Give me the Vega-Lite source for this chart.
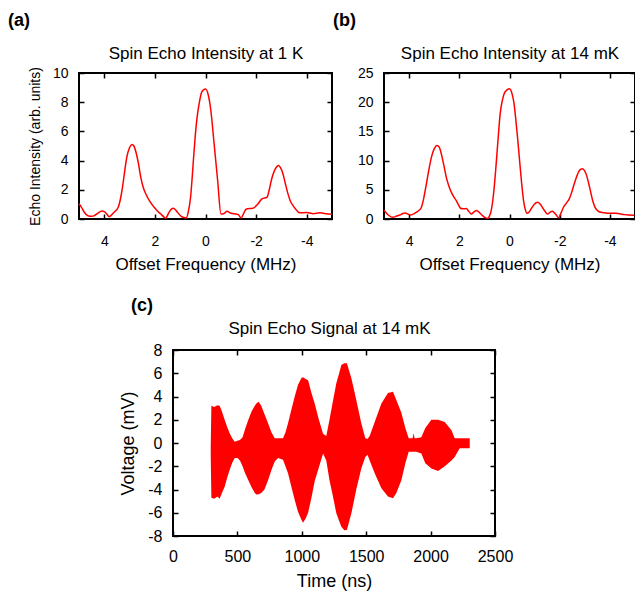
{
  "$schema": "https://vega.github.io/schema/vega-lite/v6.json",
  "padding": {"left": 7, "top": 11, "right": 0, "bottom": 0},
  "config": {
    "font": "Liberation Sans",
    "view": {"stroke": "black", "strokeWidth": 2},
    "axis": {"grid": false, "domain": false, "tickColor": "black", "tickWidth": 1.5, "tickSize": -5, "labelColor": "black", "titleColor": "black", "titleFontWeight": "normal", "labelFontSize": 14, "titleFontSize": 17, "labelFlush": false, "labelOverlap": false},
    "title": {"fontWeight": "bold", "fontSize": 18, "anchor": "start", "frame": "group", "color": "black"}
  },
  "datasets": {
    "a": [
      {"f":5.0,"v":1.05},{"f":4.9,"v":0.8},{"f":4.79,"v":0.46},{"f":4.65,"v":0.22},{"f":4.5,"v":0.18},{"f":4.39,"v":0.23},{"f":4.25,"v":0.4},{"f":4.1,"v":0.55},{"f":4.0,"v":0.5},{"f":3.93,"v":0.39},{"f":3.8,"v":0.16},{"f":3.7,"v":0.3},{"f":3.61,"v":0.46},{"f":3.45,"v":0.8},{"f":3.37,"v":1.3},{"f":3.28,"v":2.18},{"f":3.2,"v":3.2},{"f":3.11,"v":4.24},{"f":3.0,"v":4.9},{"f":2.91,"v":5.11},{"f":2.83,"v":5.0},{"f":2.75,"v":4.59},{"f":2.65,"v":3.8},{"f":2.56,"v":2.87},{"f":2.45,"v":2.1},{"f":2.33,"v":1.61},{"f":2.2,"v":1.2},{"f":2.03,"v":0.8},{"f":1.9,"v":0.55},{"f":1.77,"v":0.34},{"f":1.65,"v":0.15},{"f":1.57,"v":0.05},{"f":1.5,"v":0.25},{"f":1.44,"v":0.46},{"f":1.35,"v":0.68},{"f":1.27,"v":0.73},{"f":1.18,"v":0.62},{"f":1.11,"v":0.46},{"f":0.96,"v":0.18},{"f":0.85,"v":0.1},{"f":0.76,"v":0.07},{"f":0.68,"v":0.5},{"f":0.59,"v":1.49},{"f":0.52,"v":3.0},{"f":0.46,"v":4.47},{"f":0.4,"v":5.8},{"f":0.33,"v":7.0},{"f":0.25,"v":7.9},{"f":0.17,"v":8.6},{"f":0.08,"v":8.85},{"f":0.0,"v":8.9},
      {"f":-0.11,"v":8.49},{"f":-0.21,"v":7.45},{"f":-0.34,"v":5.16},{"f":-0.48,"v":2.64},{"f":-0.61,"v":0.34},{"f":-0.72,"v":0.36},{"f":-0.85,"v":0.53},{"f":-1.01,"v":0.39},{"f":-1.21,"v":0.34},{"f":-1.3,"v":0.3},{"f":-1.41,"v":0.07},{"f":-1.5,"v":0.35},{"f":-1.6,"v":0.67},{"f":-1.75,"v":0.72},{"f":-1.87,"v":0.73},{"f":-2.07,"v":1.03},{"f":-2.23,"v":1.38},{"f":-2.43,"v":1.49},{"f":-2.52,"v":2.0},{"f":-2.6,"v":2.64},{"f":-2.76,"v":3.44},{"f":-2.89,"v":3.67},{"f":-2.97,"v":3.5},{"f":-3.06,"v":3.1},{"f":-3.16,"v":2.4},{"f":-3.26,"v":1.72},{"f":-3.36,"v":1.2},{"f":-3.46,"v":0.92},{"f":-3.6,"v":0.6},{"f":-3.73,"v":0.42},{"f":-3.99,"v":0.45},{"f":-4.26,"v":0.36},{"f":-4.52,"v":0.42},{"f":-4.75,"v":0.36},{"f":-5.0,"v":0.33}
    ],
    "b": [
      {"f":5.0,"v":1.5},{"f":4.83,"v":0.69},{"f":4.64,"v":0.29},{"f":4.5,"v":0.5},{"f":4.37,"v":0.69},{"f":4.25,"v":0.95},{"f":4.15,"v":1.03},{"f":4.05,"v":0.85},{"f":3.93,"v":0.69},{"f":3.8,"v":0.9},{"f":3.71,"v":1.15},{"f":3.6,"v":1.5},{"f":3.51,"v":2.01},{"f":3.42,"v":3.5},{"f":3.31,"v":6.03},{"f":3.21,"v":8.5},{"f":3.11,"v":10.6},{"f":3.0,"v":12.0},{"f":2.89,"v":12.6},{"f":2.8,"v":12.3},{"f":2.72,"v":11.2},{"f":2.62,"v":9.3},{"f":2.52,"v":7.18},{"f":2.42,"v":5.7},{"f":2.32,"v":4.6},{"f":2.22,"v":3.8},{"f":2.12,"v":3.16},{"f":2.03,"v":2.4},{"f":1.95,"v":1.84},{"f":1.85,"v":1.75},{"f":1.72,"v":1.78},{"f":1.62,"v":1.3},{"f":1.52,"v":0.86},{"f":1.42,"v":1.2},{"f":1.32,"v":1.44},{"f":1.25,"v":1.3},{"f":1.17,"v":0.98},{"f":1.08,"v":0.6},{"f":0.99,"v":0.29},{"f":0.86,"v":0.11},{"f":0.8,"v":0.5},{"f":0.73,"v":1.44},{"f":0.63,"v":4.5},{"f":0.53,"v":9.48},{"f":0.45,"v":14.0},{"f":0.37,"v":18.1},{"f":0.28,"v":20.4},{"f":0.2,"v":21.6},{"f":0.1,"v":22.1},{"f":0.0,"v":22.3},
      {"f":-0.11,"v":21.3},{"f":-0.18,"v":19.8},{"f":-0.24,"v":17.5},{"f":-0.32,"v":14.0},{"f":-0.4,"v":10.1},{"f":-0.48,"v":6.3},{"f":-0.56,"v":3.16},{"f":-0.63,"v":1.6},{"f":-0.7,"v":0.98},{"f":-0.78,"v":1.2},{"f":-0.86,"v":1.72},{"f":-0.98,"v":2.5},{"f":-1.13,"v":2.87},{"f":-1.25,"v":2.4},{"f":-1.35,"v":1.72},{"f":-1.45,"v":1.1},{"f":-1.52,"v":0.86},{"f":-1.6,"v":1.1},{"f":-1.7,"v":1.32},{"f":-1.78,"v":1.1},{"f":-1.85,"v":0.75},{"f":-1.96,"v":0.23},{"f":-2.05,"v":1.0},{"f":-2.15,"v":2.01},{"f":-2.28,"v":2.8},{"f":-2.38,"v":3.45},{"f":-2.48,"v":4.6},{"f":-2.58,"v":6.03},{"f":-2.67,"v":7.2},{"f":-2.75,"v":8.05},{"f":-2.83,"v":8.5},{"f":-2.91,"v":8.62},{"f":-3.0,"v":8.2},{"f":-3.07,"v":7.47},{"f":-3.16,"v":6.0},{"f":-3.25,"v":4.31},{"f":-3.33,"v":2.9},{"f":-3.42,"v":1.9},{"f":-3.52,"v":1.4},{"f":-3.64,"v":1.15},{"f":-3.8,"v":1.05},{"f":-3.97,"v":0.98},{"f":-4.24,"v":0.98},{"f":-4.57,"v":0.75},{"f":-4.97,"v":0.63}
    ],
    "c": [
      {"t":293,"hi":-0.3,"lo":-1.2},{"t":298,"hi":3.2,"lo":-4.7},{"t":320,"hi":3.1,"lo":-4.8},{"t":345,"hi":3.25,"lo":-4.6},{"t":362,"hi":3.2,"lo":-4.8},{"t":380,"hi":2.7,"lo":-4.3},{"t":401,"hi":2.0,"lo":-3.76},{"t":420,"hi":1.4,"lo":-3.0},{"t":440,"hi":0.83,"lo":-2.3},{"t":460,"hi":0.4,"lo":-1.7},{"t":479,"hi":0.1,"lo":-1.3},{"t":500,"hi":0.2,"lo":-1.3},{"t":520,"hi":0.26,"lo":-1.5},{"t":540,"hi":0.5,"lo":-2.0},{"t":560,"hi":1.2,"lo":-2.6},{"t":585,"hi":2.0,"lo":-3.2},{"t":610,"hi":2.7,"lo":-3.8},{"t":635,"hi":3.2,"lo":-4.3},{"t":647,"hi":3.4,"lo":-4.42},{"t":665,"hi":3.55,"lo":-4.4},{"t":685,"hi":3.2,"lo":-4.3},{"t":710,"hi":2.5,"lo":-4.0},{"t":738,"hi":1.69,"lo":-3.2},{"t":765,"hi":0.9,"lo":-2.3},{"t":790,"hi":0.4,"lo":-1.6},{"t":816,"hi":0.4,"lo":-1.3},{"t":854,"hi":0.4,"lo":-1.45},{"t":873,"hi":0.9,"lo":-2.0},{"t":893,"hi":1.69,"lo":-2.6},{"t":920,"hi":2.9,"lo":-3.8},{"t":945,"hi":3.99,"lo":-4.9},{"t":970,"hi":5.0,"lo":-5.9},{"t":997,"hi":5.6,"lo":-6.6},{"t":1010,"hi":5.65,"lo":-6.85},{"t":1030,"hi":5.5,"lo":-6.5},{"t":1049,"hi":5.4,"lo":-6.0},{"t":1075,"hi":4.3,"lo":-4.7},{"t":1100,"hi":3.4,"lo":-3.3},{"t":1130,"hi":2.1,"lo":-2.2},{"t":1165,"hi":0.8,"lo":-0.9},{"t":1190,"hi":0.6,"lo":-1.5},{"t":1215,"hi":2.0,"lo":-3.2},{"t":1240,"hi":3.5,"lo":-4.5},{"t":1268,"hi":5.13,"lo":-6.05},{"t":1290,"hi":6.0,"lo":-6.7},{"t":1307,"hi":6.7,"lo":-7.2},{"t":1330,"hi":6.85,"lo":-7.5},{"t":1350,"hi":6.85,"lo":-7.48},{"t":1385,"hi":5.56,"lo":-6.05},{"t":1423,"hi":3.7,"lo":-4.0},{"t":1462,"hi":1.7,"lo":-2.2},{"t":1493,"hi":0.4,"lo":-1.2},{"t":1510,"hi":0.35,"lo":-1.0},{"t":1527,"hi":0.6,"lo":-1.5},{"t":1566,"hi":1.8,"lo":-2.6},{"t":1618,"hi":3.4,"lo":-3.9},{"t":1669,"hi":4.3,"lo":-4.6},{"t":1708,"hi":4.4,"lo":-4.76},{"t":1734,"hi":3.7,"lo":-4.3},{"t":1773,"hi":2.6,"lo":-3.2},{"t":1804,"hi":1.3,"lo":-1.75},{"t":1830,"hi":0.4,"lo":-0.75},{"t":1860,"hi":0.4,"lo":-0.75},{"t":1868,"hi":0.83,"lo":-0.75},{"t":1876,"hi":0.4,"lo":-0.75},{"t":1889,"hi":0.4,"lo":-0.75},{"t":1928,"hi":0.5,"lo":-0.9},{"t":1959,"hi":1.3,"lo":-1.75},{"t":2006,"hi":2.0,"lo":-2.2},{"t":2058,"hi":2.0,"lo":-2.4},{"t":2110,"hi":1.8,"lo":-2.0},{"t":2162,"hi":1.1,"lo":-1.5},{"t":2187,"hi":0.4,"lo":-1.2},{"t":2226,"hi":0.4,"lo":-0.46},{"t":2304,"hi":0.4,"lo":-0.46}
    ]
  },
  "spacing": 23,
  "vconcat": [
    {
      "hconcat": [
        {
          "title": {"text": "(a)", "dx": -71, "offset": 14},
          "width": 253, "height": 146,
          "data": {"name": "a"},
          "layer": [
            {
              "mark": {"type": "line", "color": "#ff0000", "strokeWidth": 1.5, "interpolate": "monotone"},
              "encoding": {
                "x": {"field": "f", "type": "quantitative", "scale": {"domain": [-5, 5], "reverse": true, "nice": false},
                      "axis": {"orient": "bottom", "values": [-4, -2, 0, 2, 4], "labelExpr": "'' + datum.value", "title": "Offset Frequency (MHz)", "labelPadding": 20, "titlePadding": 8}},
                "y": {"field": "v", "type": "quantitative", "scale": {"domain": [0, 10], "nice": false},
                      "axis": {"orient": "left", "values": [0, 2, 4, 6, 8, 10], "labelExpr": "'' + datum.value", "title": "Echo Intensity (arb. units)", "titleFontSize": 14, "labelPadding": 16, "titlePadding": 10}}
              }
            },
            {
              "mark": {"type": "line", "strokeOpacity": 0},
              "encoding": {
                "x": {"field": "f", "type": "quantitative", "axis": {"orient": "top", "values": [-4, -2, 0, 2, 4], "labels": false, "title": "Spin Echo Intensity at 1 K", "titlePadding": 10}},
                "y": {"field": "v", "type": "quantitative", "axis": {"orient": "right", "values": [0, 2, 4, 6, 8, 10], "labels": false, "title": null}}
              }
            }
          ]
        },
        {
          "title": {"text": "(b)", "dx": -51, "offset": 14},
          "width": 251, "height": 146,
          "data": {"name": "b"},
          "layer": [
            {
              "mark": {"type": "line", "color": "#ff0000", "strokeWidth": 1.5, "interpolate": "monotone"},
              "encoding": {
                "x": {"field": "f", "type": "quantitative", "scale": {"domain": [-5, 5], "reverse": true, "nice": false},
                      "axis": {"orient": "bottom", "values": [-4, -2, 0, 2, 4], "labelExpr": "'' + datum.value", "title": "Offset Frequency (MHz)", "labelPadding": 20, "titlePadding": 8}},
                "y": {"field": "v", "type": "quantitative", "scale": {"domain": [0, 25], "nice": false},
                      "axis": {"orient": "left", "values": [0, 5, 10, 15, 20, 25], "labelExpr": "'' + datum.value", "title": null, "labelPadding": 16}}
              }
            },
            {
              "mark": {"type": "line", "strokeOpacity": 0},
              "encoding": {
                "x": {"field": "f", "type": "quantitative", "axis": {"orient": "top", "values": [-4, -2, 0, 2, 4], "labels": false, "title": "Spin Echo Intensity at 14 mK", "titlePadding": 10}},
                "y": {"field": "v", "type": "quantitative", "axis": {"orient": "right", "values": [0, 5, 10, 15, 20, 25], "labels": false, "title": null}}
              }
            }
          ]
        }
      ],
      "spacing": 52,
      "bounds": "flush"
    },
    {
      "hconcat": [
        {
          "width": 1, "height": 1,
          "data": {"values": []},
          "mark": {"type": "point", "opacity": 0},
          "encoding": {},
          "view": {"stroke": null}
        },
        {
          "title": {"text": "(c)", "dx": -42},
          "width": 322, "height": 186,
          "data": {"name": "c"},
          "layer": [
            {
              "mark": {"type": "area", "color": "#ff0000", "opacity": 1},
              "encoding": {
                "x": {"field": "t", "type": "quantitative", "scale": {"domain": [0, 2500], "nice": false},
                      "axis": {"orient": "bottom", "values": [0, 500, 1000, 1500, 2000, 2500], "labelExpr": "'' + datum.value", "labelFontSize": 16, "titleFontSize": 18, "title": "Time (ns)", "labelPadding": 17, "titlePadding": 8}},
                "y": {"field": "hi", "type": "quantitative", "scale": {"domain": [-8, 8], "nice": false},
                      "axis": {"orient": "left", "values": [-8, -6, -4, -2, 0, 2, 4, 6, 8], "labelExpr": "'' + datum.value", "labelFontSize": 16, "titleFontSize": 18, "title": "Voltage (mV)", "labelPadding": 16, "titlePadding": 10}},
                "y2": {"field": "lo"}
              }
            },
            {
              "mark": {"type": "line", "strokeOpacity": 0},
              "encoding": {
                "x": {"field": "t", "type": "quantitative", "axis": {"orient": "top", "values": [0, 500, 1000, 1500, 2000, 2500], "labels": false, "title": "Spin Echo Signal at 14 mK", "titleFontSize": 17, "titlePadding": 12, "titleX": 156}},
                "y": {"field": "hi", "type": "quantitative", "axis": {"orient": "right", "values": [-8, -6, -4, -2, 0, 2, 4, 6, 8], "labels": false, "title": null}}
              }
            }
          ]
        }
      ],
      "spacing": 93,
      "bounds": "flush"
    }
  ]
}
